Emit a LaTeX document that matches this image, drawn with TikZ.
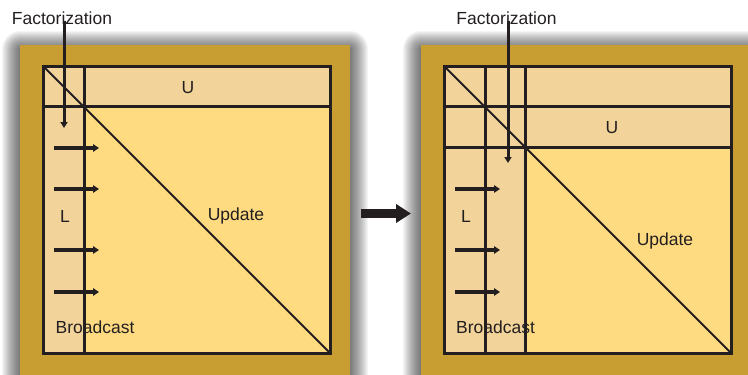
\documentclass[tikz,border=0pt]{standalone}
\usepackage{fontspec}
\setmainfont{Liberation Sans}
\usetikzlibrary{arrows.meta}

\definecolor{frame}{HTML}{C89E32}
\definecolor{done}{HTML}{F2D399}
\definecolor{rest}{HTML}{FEDB80}
\definecolor{ink}{HTML}{231F20}

\tikzset{
  gridline/.style={ink, line width=3pt},
  diagline/.style={ink, line width=2pt},
  push/.style={ink, line width=3.2pt, -{Triangle[length=6pt,width=7.5pt]}},
  drop/.style={ink, line width=3pt, -{Triangle[length=6pt,width=7pt]}},
  txt/.style={text=ink, font=\fontsize{17.5}{20}\selectfont, inner sep=0pt}
}

% soft halo round a gold frame
\newcommand\halo[4]{%
  \foreach \i in {1,...,18}
    \fill[black, opacity=0.04, rounded corners=\i pt] (#1-\i,#2-\i+4) rectangle (#3+\i,#4+\i+4);
}

\begin{document}
\begin{tikzpicture}[x=1pt, y=-1pt]
\useasboundingbox (0,0) rectangle (748,375);
\clip (0,0) rectangle (748,375);

%% left panel
\halo{20}{45}{350}{390}
\fill[frame] (20,45) rectangle (350,390);
\fill[done] (43,66) rectangle (330,353);
\fill[rest] (84,106) rectangle (330,353);
\draw[gridline] (43,66) rectangle (330,353);
\draw[gridline] (84,66) -- (84,353);
\draw[gridline] (43,106) -- (330,106);
\draw[diagline] (43,66) -- (330,353);

\node[txt] (facA) at (62,18) {Factorization};
\coordinate (facAend) at (64,128);
\draw[drop] (facA.south -| facAend) ++(0,-4) -- (facAend);
\foreach \y in {148,189,250,292}
  \draw[push] (54,\y) -- (99,\y);

\node[txt] (uA) at (188,88) {U};
\node[txt] (lA) at (65,216) {L};
\node[txt] (updA) at (236,216) {Update};
\node[txt] (bcA) at (95,327) {Broadcast};

%% right panel
\halo{421}{45}{760}{390}
\fill[frame] (421,45) rectangle (760,390);
\fill[done] (444,66) rectangle (731,353);
\fill[rest] (525,147) rectangle (731,353);
\draw[gridline] (444,66) rectangle (731,353);
\foreach \x in {485,525}
  \draw[gridline] (\x,66) -- (\x,353);
\foreach \y in {106,147}
  \draw[gridline] (444,\y) -- (731,\y);
\draw[diagline] (444,66) -- (731,353);

\node[txt] (facB) at (506.5,18) {Factorization};
\coordinate (facBend) at (508,163);
\draw[drop] (facB.south -| facBend) ++(0,-4) -- (facBend);
\foreach \y in {189,250,292}
  \draw[push] (455,\y) -- (500,\y);

\node[txt] (uB) at (612,128) {U};
\node[txt] (lB) at (466,216) {L};
\node[txt] (updB) at (665,241) {Update};
\node[txt] (bcB) at (495.5,327) {Broadcast};

%% step to the next panel
\coordinate (stepA) at (361,213.5);
\coordinate (stepB) at (411,213.5);
\draw[ink, line width=9pt, -{Triangle[length=15pt,width=18pt]}] (stepA) -- (stepB);

\end{tikzpicture}
\end{document}
